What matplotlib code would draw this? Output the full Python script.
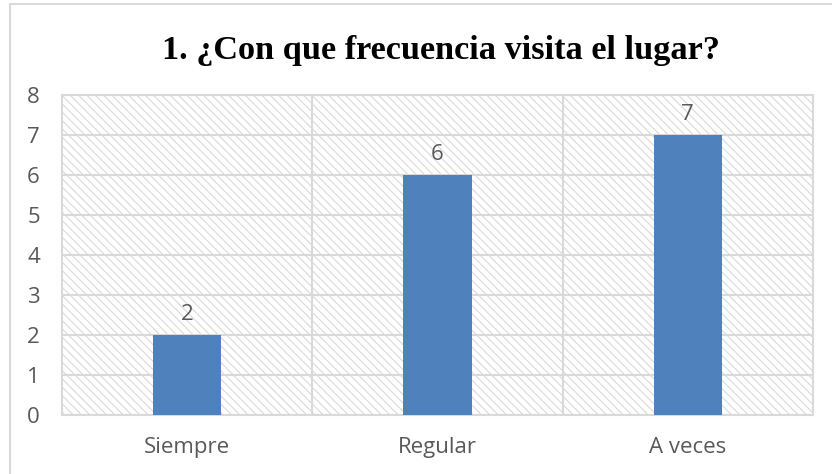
import matplotlib
matplotlib.use("Agg")
import matplotlib.pyplot as plt
from matplotlib.patches import Rectangle

categories = ["Siempre", "Regular", "A veces"]
values = [2, 6, 7]
yticks = [0, 1, 2, 3, 4, 5, 6, 7, 8]
title = "1. ¿Con que frecuencia visita el lugar?"

grid_col = "#d9d9d9"
text_col = "#595959"
bar_col = "#4f81bd"

plt.rcParams['font.family'] = ['Open Sans', 'DejaVu Sans']
plt.rcParams['hatch.linewidth'] = 0.7

fig = plt.figure(figsize=(8.32, 4.74), dpi=100)
W, H = 832, 474

# outer chart frame
fig.patches.append(Rectangle((10 / W, -0.1), 1.2, 1 - 4 / H + 0.1, transform=fig.transFigure,
                             fill=False, edgecolor=grid_col, linewidth=1.5))

ax = fig.add_axes([62 / W, (H - 415) / H, (813 - 62) / W, (415 - 95) / H])

# hatched plot background
ax.add_patch(Rectangle((0, 0), 1, 1, transform=ax.transAxes, facecolor="white",
                       edgecolor="#d4d4d4", hatch="\\\\\\\\", linewidth=0, zorder=0))

x = list(range(len(categories)))
bars = ax.bar(x, values, width=0.272, color=bar_col, zorder=3)

for b, v in zip(bars, values):
    ax.annotate(str(v), (b.get_x() + b.get_width() / 2, v), xytext=(0, 7),
                textcoords="offset points", ha="center", va="bottom",
                fontsize=16, color=text_col, zorder=4)

ax.set_xlim(-0.5, len(categories) - 0.5)
ax.set_ylim(0, 8)
ax.set_yticks(yticks)
ax.set_xticks(x)
ax.set_xticklabels(categories)
ax.tick_params(axis="both", length=0, labelsize=16, labelcolor=text_col)
ax.tick_params(axis="y", pad=16)
ax.tick_params(axis="x", pad=16)

for yv in yticks:
    ax.axhline(yv, color=grid_col, linewidth=1.5, zorder=1)
for xv in [0.5, 1.5]:
    ax.axvline(xv, color=grid_col, linewidth=1.5, zorder=1)
for s in ax.spines.values():
    s.set_color(grid_col)
    s.set_linewidth(1.5)

fig.text(441 / W, 1 - 59 / H, title, ha="center", va="baseline", fontsize=24.7,
         fontweight="bold", family=["Liberation Serif", "DejaVu Serif"], color="black")

fig.savefig("out.png", dpi=100)
